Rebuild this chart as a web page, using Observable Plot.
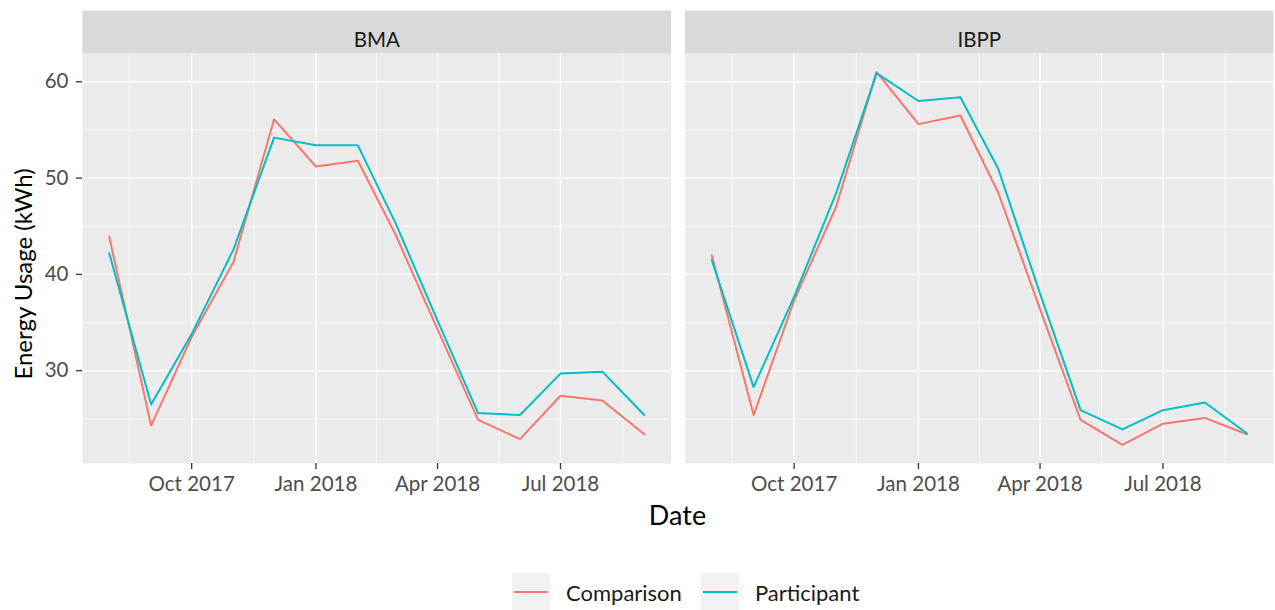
<!DOCTYPE html>
<html>
<head>
<meta charset="utf-8">
<script src="https://cdn.jsdelivr.net/npm/d3@7"></script>
<script src="https://cdn.jsdelivr.net/npm/@observablehq/plot@0.6"></script>
<style>
  html, body { margin: 0; padding: 0; background: #ffffff; }
  #chart { width: 1275px; font-family: Lato, "Noto Sans", sans-serif; }
  #legend {
    position: relative; height: 65px; width: 1275px;
  }
  .legend-row {
    position: absolute; top: 28px; left: 512px;
    display: flex; align-items: center;
    font-family: Lato, "Noto Sans", sans-serif; font-size: 22px; color: #1a1a1a;
  }
  .legend-key {
    width: 38px; height: 38px; background: #f2f2f2;
    display: flex; align-items: center; justify-content: center;
  }
  .legend-key span { display: block; width: 34px; height: 2px; }
  .legend-label { margin-left: 16px; margin-right: 19px; }
</style>
</head>
<body>
<div id="chart"></div>
<div id="legend"><div class="legend-row"></div></div>
<script>
// Monthly average energy usage per household, by programme and group
const panels = ["BMA", "IBPP"];
const groups = ["Comparison", "Participant"];
const groupColors = ["#F8766D", "#00BFC4"];

const months = [
  "2017-08-01", "2017-09-01", "2017-10-01", "2017-11-01", "2017-12-01",
  "2018-01-01", "2018-02-01", "2018-03-01", "2018-04-01", "2018-05-01",
  "2018-06-01", "2018-07-01", "2018-08-01", "2018-09-01"
];

const bmaComparison  = [43.9, 24.3, 33.5, 41.3, 56.1, 51.2, 51.8, 44.1, 34.3, 24.9, 22.9, 27.4, 26.9, 23.4];
const bmaParticipant = [42.2, 26.5, 33.8, 42.6, 54.2, 53.4, 53.4, 45.3, 35.2, 25.6, 25.4, 29.7, 29.9, 25.4];
const ibppComparison  = [42.0, 25.4, 37.3, 47.0, 61.0, 55.6, 56.5, 48.5, 36.4, 24.9, 22.3, 24.5, 25.1, 23.4];
const ibppParticipant = [41.5, 28.3, 37.7, 48.4, 60.9, 58.0, 58.4, 51.0, 38.0, 25.9, 23.9, 25.9, 26.7, 23.5];

// Axis breaks
const xBreaks = ["2017-07-01", "2017-10-01", "2018-01-01", "2018-04-01", "2018-07-01", "2018-10-01"];
const yBreaks = [20, 30, 40, 50, 60, 70];

const parse = d3.utcParse("%Y-%m-%d");
const series = [
  ["BMA", "Comparison", bmaComparison],
  ["BMA", "Participant", bmaParticipant],
  ["IBPP", "Comparison", ibppComparison],
  ["IBPP", "Participant", ibppParticipant]
];
const rows = series.flatMap(([panel, group, values]) =>
  values.map((value, i) => ({panel, group, date: parse(months[i]), value}))
);

// Continuous scales padded by 5% on each side
function expand([lo, hi], k = 0.05) {
  const pad = (hi - lo) * k;
  return [lo - pad, hi + pad];
}
const dateExtent = d3.extent(rows, d => +d.date);
const xDomain = expand(dateExtent).map(t => new Date(t));
const yDomain = expand(d3.extent(rows, d => d.value));

const inDomain = (v, [a, b]) => v >= a && v <= b;
const majorX = xBreaks.map(parse);
const minorX = d3.pairs(majorX, (a, b) => new Date((+a + +b) / 2)).filter(d => inDomain(d, xDomain));
const majorXShown = majorX.filter(d => inDomain(d, xDomain));
const minorY = d3.pairs(yBreaks, (a, b) => (a + b) / 2).filter(d => inDomain(d, yDomain));
const majorYShown = yBreaks.filter(d => inDomain(d, yDomain));

const W = 1275, H = 545;
const mLeft = 82, mRight = 2, mTop = 53, mBottom = 82;
const panelGap = 14;
const panelH = H - mTop - mBottom;
const stripH = 43;
const innerW = W - mLeft - mRight;

const font = "Lato, 'Noto Sans', sans-serif";

const chart = Plot.plot({
  width: W,
  height: H,
  marginLeft: mLeft,
  marginRight: mRight,
  marginTop: mTop,
  marginBottom: mBottom,
  style: {fontFamily: font, background: "#ffffff", overflow: "visible"},
  fx: {domain: panels, paddingInner: panelGap / (innerW / panels.length + panelGap / panels.length), paddingOuter: 0, round: false, axis: null, label: null},
  x: {type: "utc", domain: xDomain},
  y: {domain: yDomain},
  color: {domain: groups, range: groupColors},
  marks: [
    Plot.frame({fill: "#ebebeb", stroke: null}),
    Plot.frame({fill: "#d9d9d9", stroke: null, insetTop: -stripH, insetBottom: panelH}),
    Plot.gridY(minorY, {stroke: "#ffffff", strokeOpacity: 1, strokeWidth: 0.7}),
    Plot.gridX(minorX, {stroke: "#ffffff", strokeOpacity: 1, strokeWidth: 0.7}),
    Plot.gridY(majorYShown, {stroke: "#ffffff", strokeOpacity: 1, strokeWidth: 1.4}),
    Plot.gridX(majorXShown, {stroke: "#ffffff", strokeOpacity: 1, strokeWidth: 1.4}),
    Plot.lineY(rows, {x: "date", y: "value", z: "group", stroke: "group", fx: "panel", strokeWidth: 2}),
    Plot.text(panels, {fx: d => d, text: d => d, frameAnchor: "top", dy: -21, fontSize: 20.5, fill: "#1a1a1a"}),
    Plot.axisX({ticks: majorXShown, tickFormat: d3.utcFormat("%b %Y"), tickSize: 6, tickPadding: 7,
      fontSize: 20.5, fill: "#4d4d4d", stroke: "#333333", strokeWidth: 1.3, label: null}),
    Plot.axisY({ticks: majorYShown, tickSize: 6, tickPadding: 8,
      fontSize: 20.5, fill: "#4d4d4d", stroke: "#333333", strokeWidth: 1.3, label: null})
  ]
});

// Shared axis titles
const svg = d3.select(chart);
svg.append("text")
  .attr("x", mLeft + innerW / 2)
  .attr("y", 525)
  .attr("text-anchor", "middle")
  .attr("font-family", font)
  .attr("font-size", 27)
  .attr("fill", "#000000")
  .text("Date");
svg.append("text")
  .attr("transform", `translate(32,${mTop + panelH / 2 + 16}) rotate(-90)`)
  .attr("text-anchor", "middle")
  .attr("font-family", font)
  .attr("font-size", 24)
  .attr("fill", "#000000")
  .text("Energy Usage (kWh)");

document.getElementById("chart").appendChild(chart);

// Legend below the panels
const legendRow = d3.select(".legend-row");
groups.forEach((g, i) => {
  const item = legendRow.append("div").style("display", "flex").style("align-items", "center");
  item.append("div").attr("class", "legend-key").append("span").style("background", groupColors[i]);
  item.append("div").attr("class", "legend-label").text(g);
});
</script>
</body>
</html>
